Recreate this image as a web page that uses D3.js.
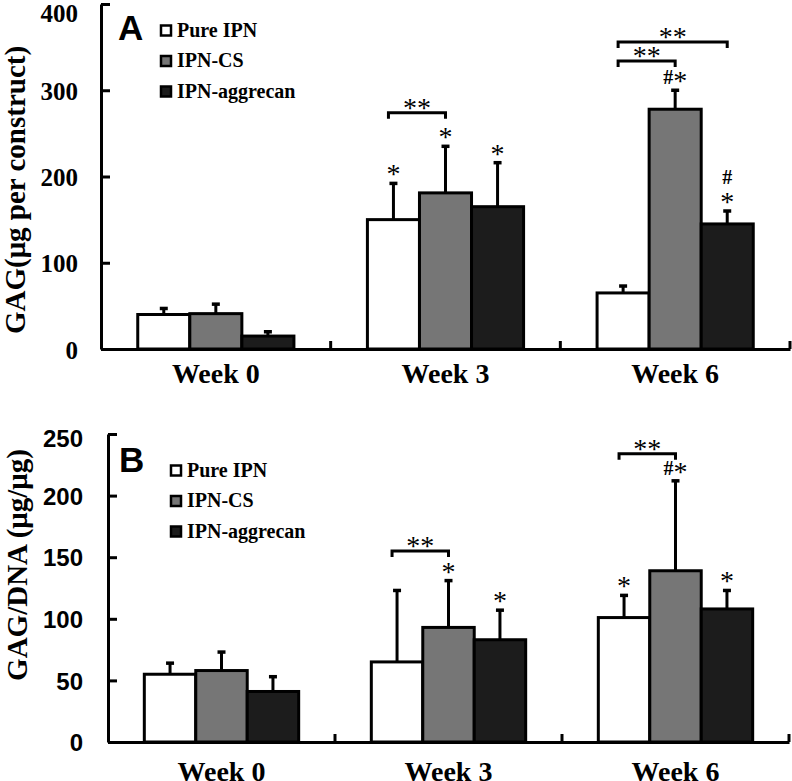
<!DOCTYPE html>
<html>
<head>
<meta charset="utf-8">
<script src="https://cdnjs.cloudflare.com/ajax/libs/d3/7.8.5/d3.min.js"></script>
<style>
  html, body { margin: 0; padding: 0; background: #fff; }
  svg { display: block; }
</style>
</head>
<body>
<svg id="chart" width="792" height="781"></svg>
<script>
const weeks = ["Week 0", "Week 3", "Week 6"];
const groups = ["Pure IPN", "IPN-CS", "IPN-aggrecan"];
const groupColors = ["#ffffff", "#767676", "#1c1c1c"];

// panel A: GAG per construct
const gagTicks = [0, 100, 200, 300, 400];
const gagPure = [40, 150, 65];
const gagCS = [41, 181, 278];
const gagAgg = [15, 165, 145];
const gagPureSD = [7, 42, 8];
const gagCSSD = [11, 54, 22];
const gagAggSD = [5, 51, 15];
const gagPureMarks = ["", "*", ""];
const gagCSMarks = ["", "*", "#*"];
const gagAggMarks = ["", "*", "#\n*"];
const gagBrackets = [
  {week: 1, from: 0, to: 1, level: 274},
  {week: 2, from: 0, to: 1, level: 334},
  {week: 2, from: 0, to: 2, level: 356}
];

// panel B: GAG/DNA
const ratioTicks = [0, 50, 100, 150, 200, 250];
const ratioPure = [55, 65, 101];
const ratioCS = [58, 93, 139];
const ratioAgg = [41, 83, 108];
const ratioPureSD = [9, 58, 18];
const ratioCSSD = [15, 38, 73];
const ratioAggSD = [12, 24, 15];
const ratioPureMarks = ["", "", "*"];
const ratioCSMarks = ["", "*", "#*"];
const ratioAggMarks = ["", "*", "*"];
const ratioBrackets = [
  {week: 1, from: 0, to: 1, level: 155},
  {week: 2, from: 0, to: 1, level: 234}
];

const svg = d3.select("#chart");
const serif = "'Liberation Serif', 'Times New Roman', serif";
const sans = "'Liberation Sans', Arial, sans-serif";

// writes "*" and "#" so that both glyphs share one visual centre line
function markText(g, str, x, centre) {
  const t = g.append("text")
    .attr("x", x)
    .attr("y", centre + 13)
    .attr("text-anchor", "middle")
    .style("font-family", serif);
  let raised = false;
  str.split("").forEach(c => {
    const hash = c === "#";
    let dy = 0;
    if (hash && !raised) { dy = -6; raised = true; }
    if (!hash && raised) { dy = 6; raised = false; }
    t.append("tspan")
      .attr("dy", dy)
      .style("font-size", hash ? "20px" : "28px")
      .style("font-weight", hash ? "bold" : "normal")
      .text(c);
  });
}

function drawPanel(p) {
  const g = svg.append("g");

  const x = d3.scaleBand().domain(weeks).range([p.left, p.right]).padding(0);
  const xs = d3.scaleBand().domain(groups)
    .range([x.bandwidth() * 0.16, x.bandwidth() * 0.84]);
  const y = d3.scaleLinear().domain([0, d3.max(p.ticks)]).range([p.bottom, p.top]);

  const rows = [];
  p.means.forEach((series, si) => {
    series.forEach((v, wi) => {
      rows.push({
        week: weeks[wi], group: groups[si], si: si,
        v: v, sd: p.sds[si][wi], mark: p.marks[si][wi]
      });
    });
  });
  const cx = d => x(d.week) + xs(d.group) + xs.bandwidth() / 2;

  // x axis
  const xAxis = g.append("g")
    .attr("transform", `translate(0,${y(0)})`)
    .call(d3.axisBottom(x).tickSize(0).tickSizeOuter(0));
  xAxis.select(".domain").attr("stroke", "#000").attr("stroke-width", 3);
  xAxis.selectAll("text")
    .attr("dy", null)
    .attr("y", p.labelGap)
    .style("font-family", serif)
    .style("font-weight", "bold")
    .style("font-size", "28px")
    .attr("fill", "#000");

  g.selectAll(".sep")
    .data(weeks)
    .join("line")
    .attr("class", "sep")
    .attr("x1", d => x(d) + x.bandwidth())
    .attr("x2", d => x(d) + x.bandwidth())
    .attr("y1", y(0))
    .attr("y2", y(0) - 8)
    .attr("stroke", "#000")
    .attr("stroke-width", 3);

  // y axis
  const yAxis = g.append("g")
    .attr("transform", `translate(${p.left},0)`)
    .call(d3.axisLeft(y).tickValues(p.ticks).tickSizeInner(-9).tickSizeOuter(0).tickPadding(p.tickPad));
  yAxis.select(".domain").attr("stroke", "#000").attr("stroke-width", 3);
  yAxis.selectAll(".tick line").attr("stroke", "#000").attr("stroke-width", 3);
  yAxis.selectAll("text")
    .attr("dy", d => d === d3.max(p.ticks) ? p.topDy : "0.36em")
    .style("font-family", p.tickFont)
    .style("font-weight", "bold")
    .style("font-size", p.tickSize)
    .attr("fill", "#000");

  g.append("text")
    .attr("transform", `translate(${p.titleX},${p.titleY}) rotate(-90)`)
    .attr("text-anchor", "middle")
    .style("font-family", serif)
    .style("font-weight", "bold")
    .style("font-size", "29px")
    .text(p.title);

  // bars
  g.selectAll(".bar")
    .data(rows)
    .join("rect")
    .attr("class", "bar")
    .attr("x", d => x(d.week) + xs(d.group))
    .attr("y", d => y(d.v))
    .attr("width", xs.bandwidth())
    .attr("height", d => y(0) - y(d.v))
    .attr("fill", d => groupColors[d.si])
    .attr("stroke", "#000")
    .attr("stroke-width", 3);

  g.selectAll(".err")
    .data(rows)
    .join("line")
    .attr("class", "err")
    .attr("x1", cx).attr("x2", cx)
    .attr("y1", d => y(d.v))
    .attr("y2", d => y(d.v + d.sd))
    .attr("stroke", "#000")
    .attr("stroke-width", 3);

  g.selectAll(".cap")
    .data(rows)
    .join("line")
    .attr("class", "cap")
    .attr("x1", d => cx(d) - 4).attr("x2", d => cx(d) + 4)
    .attr("y1", d => y(d.v + d.sd))
    .attr("y2", d => y(d.v + d.sd))
    .attr("stroke", "#000")
    .attr("stroke-width", 3.5);

  // significance marks above bars
  rows.filter(d => d.mark).forEach(d => {
    const lines = d.mark.split("\n");
    lines.forEach((t, i) => {
      const centre = y(d.v + d.sd) - 13 - (lines.length - 1 - i) * 21;
      markText(g, t, cx(d), centre);
    });
  });

  // brackets
  p.brackets.forEach(b => {
    const x1 = x(weeks[b.week]) + xs(groups[b.from]) + xs.bandwidth() / 2 - 5;
    const x2 = x(weeks[b.week]) + xs(groups[b.to]) + xs.bandwidth() / 2;
    const yl = y(b.level);
    g.append("path")
      .attr("d", `M${x1},${yl + 6}V${yl}H${x2}V${yl + 6}`)
      .attr("fill", "none")
      .attr("stroke", "#000")
      .attr("stroke-width", 3);
    markText(g, "**", (x1 + x2) / 2, yl - 9);
  });

  // panel letter and legend
  g.append("text")
    .attr("x", p.letterX)
    .attr("y", p.letterY)
    .style("font-family", sans)
    .style("font-weight", "bold")
    .style("font-size", "35px")
    .text(p.letter);

  const legend = g.selectAll(".legend")
    .data(groups)
    .join("g")
    .attr("class", "legend")
    .attr("transform", (d, i) => `translate(${p.legendX},${p.legendY + i * 30.5})`);
  legend.append("rect")
    .attr("x", 1).attr("y", -5)
    .attr("width", 10).attr("height", 10)
    .attr("fill", (d, i) => groupColors[i])
    .attr("stroke", "#000")
    .attr("stroke-width", 2.5);
  legend.append("text")
    .attr("x", 17)
    .attr("y", 6)
    .style("font-family", serif)
    .style("font-weight", "bold")
    .style("font-size", "20px")
    .text(d => d);
}

drawPanel({
  left: 101, right: 790, top: 4, bottom: 349,
  ticks: gagTicks,
  means: [gagPure, gagCS, gagAgg],
  sds: [gagPureSD, gagCSSD, gagAggSD],
  marks: [gagPureMarks, gagCSMarks, gagAggMarks],
  brackets: gagBrackets,
  tickFont: serif, tickSize: "25px", tickPad: 23, topDy: "0.68em",
  labelGap: 34,
  title: "GAG(μg per construct)", titleX: 25, titleY: 190,
  letter: "A", letterX: 118, letterY: 40,
  legendX: 160, legendY: 30.5
});

drawPanel({
  left: 108, right: 789, top: 434, bottom: 742,
  ticks: ratioTicks,
  means: [ratioPure, ratioCS, ratioAgg],
  sds: [ratioPureSD, ratioCSSD, ratioAggSD],
  marks: [ratioPureMarks, ratioCSMarks, ratioAggMarks],
  brackets: ratioBrackets,
  tickFont: sans, tickSize: "24px", tickPad: 25, topDy: "0.5em",
  labelGap: 39,
  title: "GAG/DNA (μg/μg)", titleX: 27, titleY: 565,
  letter: "B", letterX: 119, letterY: 472,
  legendX: 170, legendY: 470.5
});
</script>
</body>
</html>
